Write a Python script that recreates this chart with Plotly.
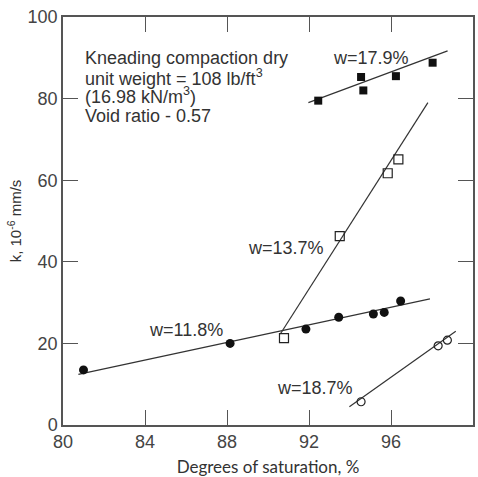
import plotly.graph_objects as go

# w = 11.8% (filled circles)
s118_x = [81.0, 88.15, 91.85, 93.45, 95.14, 95.67, 96.47]
s118_y = [13.5, 20.0, 23.5, 26.4, 27.2, 27.6, 30.4]
l118_x = [80.75, 97.9]
l118_y = [12.4, 30.9]

# w = 13.7% (open squares)
s137_x = [90.78, 93.5, 95.84, 96.36]
s137_y = [21.3, 46.3, 61.7, 65.1]
l137_x = [90.6, 97.8]
l137_y = [22.3, 79.0]

# w = 17.9% (filled squares)
s179_x = [92.45, 94.54, 94.65, 96.24, 98.03]
s179_y = [79.5, 85.3, 82.0, 85.5, 88.8]
l179_x = [91.97, 98.76]
l179_y = [79.0, 91.7]

# w = 18.7% (open circles)
s187_x = [94.54, 98.3, 98.75]
s187_y = [5.7, 19.4, 20.8]
l187_x = [93.97, 99.16]
l187_y = [4.5, 23.0]

labels = ["w=11.8%", "w=13.7%", "w=17.9%", "w=18.7%"]
label_x = [86.0, 90.87, 95.0, 92.3]
label_y = [23.3, 43.5, 90.0, 9.0]

x_ticks = [80, 84, 88, 92, 96, 100]
y_ticks = [0, 20, 40, 60, 80, 100]

FONT = "Arial"

fig = go.Figure()
line_style = dict(color="#333333", width=1.2)
for lx, ly in [(l118_x, l118_y), (l137_x, l137_y), (l179_x, l179_y), (l187_x, l187_y)]:
    fig.add_trace(go.Scatter(x=lx, y=ly, mode="lines", line=line_style,
                             showlegend=False, hoverinfo="skip"))

fig.add_trace(go.Scatter(x=s118_x, y=s118_y, mode="markers", showlegend=False,
                         marker=dict(symbol="circle", size=9, color="#111111")))
fig.add_trace(go.Scatter(x=s137_x, y=s137_y, mode="markers", showlegend=False,
                         marker=dict(symbol="square-open", size=9, color="#222222",
                                     line=dict(width=1.2))))
fig.add_trace(go.Scatter(x=s179_x, y=s179_y, mode="markers", showlegend=False,
                         marker=dict(symbol="square", size=8, color="#111111")))
fig.add_trace(go.Scatter(x=s187_x, y=s187_y, mode="markers", showlegend=False,
                         marker=dict(symbol="circle-open", size=8, color="#222222",
                                     line=dict(width=1.2))))

for t, x, y in zip(labels, label_x, label_y):
    fig.add_annotation(x=x, y=y, text=t, showarrow=False, xref="x", yref="y",
                       font=dict(family=FONT, size=18, color="#333333"))

info_lines = ["Kneading compaction dry",
              "unit weight = 108 lb/ft<sup>3</sup>",
              "(16.98 kN/m<sup>3</sup>)",
              "Void ratio - 0.57"]
info_y = [58, 77, 96, 116]  # pixel rows in the reference image
for t, py in zip(info_lines, info_y):
    fig.add_annotation(x=(83 - 63) / 410, y=(425 - py) / 408, text=t, showarrow=False,
                       xref="x domain", yref="y domain",
                       xanchor="left", yanchor="middle",
                       font=dict(family=FONT, size=18, color="#333333"))

axis_common = dict(showline=True, linecolor="#555555", linewidth=1.5, mirror="ticks",
                   ticks="inside", ticklen=15, tickwidth=1.3, tickcolor="#555555",
                   showgrid=False, zeroline=False, automargin=False,
                   tickfont=dict(family=FONT, size=18, color="#444444"))

fig.update_xaxes(range=[80, 100], tickvals=x_ticks, ticktext=[str(v) for v in x_ticks],
                 title=dict(text="Degrees of saturation, %", standoff=12,
                            font=dict(family="Lato", size=17, color="#333333")),
                 **axis_common)
fig.update_yaxes(range=[0, 100], tickvals=y_ticks, ticktext=[str(v) for v in y_ticks],
                 title=dict(text="k, 10<sup>-6</sup> mm/s", standoff=2,
                            font=dict(family=FONT, size=15, color="#333333")),
                 **axis_common)

fig.update_layout(width=478, height=477, margin=dict(l=63, r=5, t=17, b=52),
                  plot_bgcolor="white", paper_bgcolor="white")

# remove the default page margin so the figure sits at the window's top-left corner
fig.write_html("out.html", config={"displayModeBar": False},
               post_script="document.body.style.margin='0px';document.body.style.overflow='hidden';")
